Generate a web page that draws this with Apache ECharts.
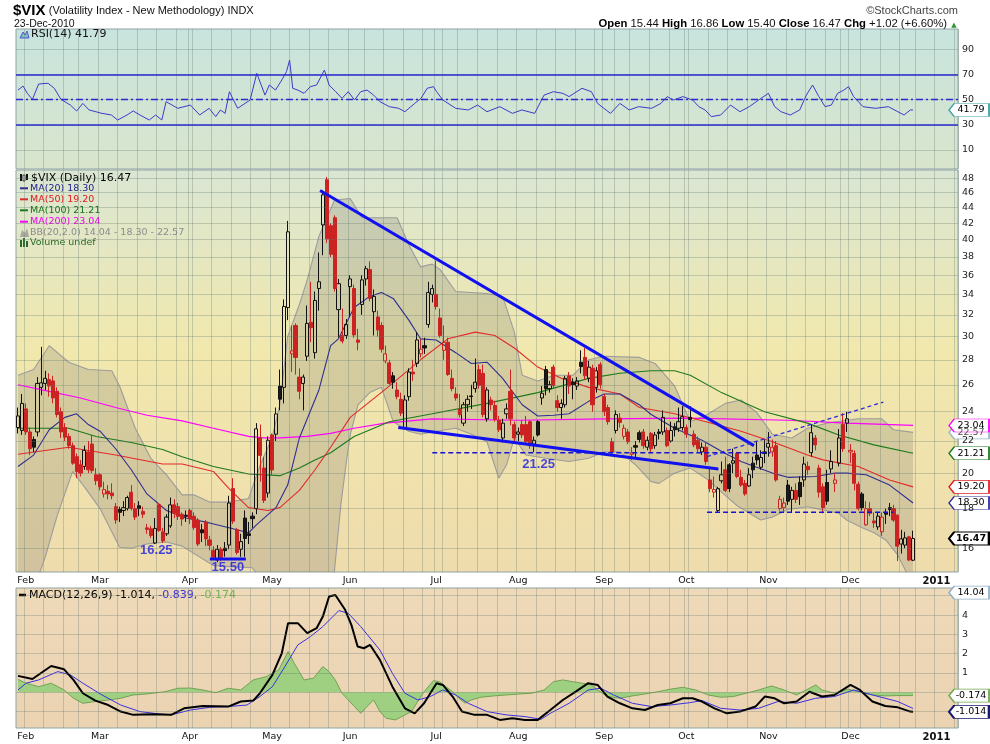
<!DOCTYPE html>
<html><head><meta charset="utf-8">
<script src="https://cdn.jsdelivr.net/npm/echarts@6/dist/echarts.min.js"></script>
<style>html,body{margin:0;padding:0;background:#fff}#c{width:990px;height:744px}</style>
</head><body><div id="c"></div>
<script>
// ---------------- DATA ----------------
const firstDay = '2010-01-28';
const holidays = ['2010-02-15','2010-04-02','2010-05-31','2010-07-05','2010-09-06','2010-11-25','2010-12-24','2011-01-17'];
const monthNames = ['Jan','Feb','Mar','Apr','May','Jun','Jul','Aug','Sep','Oct','Nov','Dec'];

// daily OHLC, 2010-01-28 .. 2010-12-23
const opens = [
 22.9,22.7,
 24.2,22.6,22.1,22.6,25.8,26.1,26.4,26.3,25.5,24.0,22.9,22.3,21.7,21.0,20.5,20.4,21.3,21.8,19.9,
 19.9,18.8,18.95,18.85,18.1,17.95,17.9,18.0,18.9,18.0,18.15,17.85,17.0,16.95,16.25,18.2,16.8,16.7,17.1,18.2,18.1,17.7,17.65,
 17.9,17.6,17.4,16.9,17.3,16.4,15.9,15.45,15.95,16.0,16.15,19.1,16.9,15.95,17.5,16.7,17.6,18.0,22.2,20.3,18.85,
 22.4,22.45,25.9,25.8,32.7,28.5,31.0,26.6,26.1,28.3,31.3,28.6,34.6,41.8,47.8,41.7,42.7,32.5,30.1,30.1,
 34.8,34.6,29.7,33.0,35.6,36.6,32.3,31.8,31.0,27.9,27.75,26.7,25.6,24.9,22.9,25.1,27.0,27.7,28.5,29.2,31.1,34.0,
 34.0,31.7,28.8,29.5,26.5,25.3,24.2,23.2,24.5,25.15,25.7,27.2,26.9,23.5,24.85,24.45,23.4,22.2,23.85,25.5,23.1,
 22.45,23.1,23.1,23.3,21.8,23.3,25.0,27.2,25.7,27.4,24.8,24.3,24.5,26.7,26.2,25.9,27.8,28.2,26.5,27.3,25.8,27.6,
 25.1,24.3,21.95,22.7,23.55,22.3,22.6,21.15,21.7,22.55,22.6,21.6,22.5,21.7,22.6,22.6,22.7,22.0,22.95,22.85,22.9,
 22.9,23.6,22.45,22.05,21.3,21.6,19.6,18.9,17.9,19.55,20.2,20.5,20.6,21.2,19.75,19.4,19.25,20.6,21.1,20.35,21.3,
 21.6,21.3,21.7,18.0,18.05,19.3,18.5,19.0,19.45,19.6,20.4,21.25,22.2,20.3,19.2,19.45,20.25,19.4,20.6,23.1,23.2,
 21.3,21.2,19.35,18.8,17.15,18.0,17.35,17.05,16.8,17.8,18.05,18.0,17.65,16.2,16.15,16.55,15.44
];
const highs = [
 24.3,25.3,
 24.6,22.9,22.3,26.6,29.1,27.1,26.9,26.7,25.8,24.3,23.2,22.5,21.9,21.2,20.8,21.7,22.0,22.4,20.3,
 20.0,19.5,19.3,19.4,18.3,18.1,18.4,18.7,19.3,18.3,18.4,18.1,17.2,17.1,17.5,18.3,17.0,17.7,18.6,18.5,18.3,17.8,17.9,
 18.0,17.8,17.5,17.2,17.4,16.6,16.1,16.15,16.05,16.3,18.7,19.7,17.0,16.7,17.9,17.3,17.8,23.2,23.1,21.0,22.3,
 22.5,24.3,27.2,33.5,42.3,31.0,31.2,27.3,26.8,32.9,35.3,34.3,38.5,46.3,48.2,42.0,43.0,35.6,32.6,31.6,
 36.0,35.0,30.7,36.0,37.0,37.5,34.5,32.4,31.3,29.2,28.0,27.0,26.2,25.4,25.2,27.3,28.0,30.4,29.8,29.9,35.3,35.0,
 37.6,32.6,31.0,29.9,27.2,25.8,25.3,24.7,25.2,26.0,28.1,27.6,27.6,25.8,25.1,24.8,23.7,23.5,24.6,27.2,23.3,
 22.9,23.4,23.7,23.4,22.3,23.4,25.9,27.5,26.3,27.6,25.2,24.9,26.7,27.0,26.5,26.6,28.8,29.0,27.9,27.6,27.4,27.8,
 25.3,24.5,22.2,24.1,23.9,23.1,22.8,21.6,22.0,22.7,22.8,22.3,22.6,22.6,22.8,24.1,22.9,23.3,23.2,24.3,24.4,
 23.1,24.4,22.7,22.3,21.9,21.9,20.3,19.8,19.2,20.7,21.0,20.6,21.5,21.3,20.2,19.6,20.3,21.0,22.0,21.4,22.1,
 22.6,22.1,22.0,18.7,18.6,19.6,19.2,19.4,19.8,21.0,20.7,23.1,22.4,20.5,19.4,20.2,21.4,20.0,22.8,23.9,24.0,
 21.8,21.4,19.5,18.9,18.4,18.35,17.8,17.8,17.8,18.0,18.3,18.2,17.7,16.9,16.8,16.6,16.86
];
const lows = [
 22.5,22.4,
 22.4,21.1,21.3,22.3,25.2,25.6,25.1,24.6,23.6,22.2,22.0,21.5,20.5,19.7,19.8,20.2,20.0,20.0,19.3,
 19.0,18.6,18.5,18.5,17.2,17.3,17.6,17.9,17.9,17.4,17.6,17.5,16.7,16.5,16.2,16.8,16.25,16.6,17.0,17.5,17.4,17.1,17.3,
 17.2,16.9,16.1,16.3,16.1,15.9,15.5,15.35,15.4,15.6,15.95,17.2,15.7,15.6,15.6,16.2,17.0,17.7,19.5,18.3,18.6,
 19.9,22.0,24.1,24.6,31.5,27.0,26.8,24.9,24.1,27.9,29.5,28.1,32.4,38.2,39.6,38.0,34.3,29.9,29.4,29.8,
 31.8,29.9,28.8,32.0,34.9,33.3,30.1,30.0,28.6,27.7,26.0,25.7,24.9,23.7,22.8,24.8,26.3,27.4,28.2,28.5,30.8,33.2,
 32.5,29.9,28.0,26.7,25.5,24.8,23.6,23.0,24.0,24.2,25.4,25.7,23.6,23.3,24.1,23.3,22.6,21.9,23.5,23.05,21.9,
 22.0,22.2,21.8,21.5,21.3,22.3,24.5,25.2,25.4,25.7,24.0,23.5,24.3,25.3,24.9,25.6,26.9,26.4,26.2,24.0,25.4,25.7,
 23.7,23.1,21.2,22.5,22.9,22.1,21.8,20.8,20.9,21.9,21.5,21.4,21.3,21.5,22.1,22.4,21.6,21.9,22.3,22.6,22.7,
 22.2,22.9,21.6,21.3,21.1,20.5,18.9,18.6,17.8,19.4,18.9,18.9,20.0,19.7,19.2,18.7,19.2,19.7,20.5,20.2,20.6,
 21.0,21.0,19.5,17.9,17.85,18.2,17.8,18.3,18.2,19.2,19.9,21.0,21.4,18.6,17.75,18.2,20.0,18.9,20.4,21.3,22.6,
 20.6,19.0,17.9,17.9,17.1,17.6,17.0,16.9,16.6,17.2,17.6,17.3,15.4,15.75,16.0,15.4,15.40
];
const closes = [
 23.7,24.6,
 22.6,21.5,21.6,26.1,26.15,26.5,25.9,25.0,23.8,22.6,22.25,21.7,20.6,20.1,20.0,21.4,20.2,20.15,19.55,
 19.2,19.05,18.8,18.7,17.4,17.8,18.05,18.6,18.0,17.55,18.0,17.7,16.92,16.62,16.97,16.87,16.35,17.55,18.2,17.77,17.59,17.45,17.59,
 17.47,17.02,16.2,16.75,16.45,16.14,15.58,15.95,15.55,15.89,18.3,17.34,15.8,16.32,16.47,16.62,17.47,22.81,21.08,18.44,22.05,
 20.19,23.84,24.91,32.8,40.95,28.75,28.2,25.5,26.6,31.2,30.8,33.4,35.3,45.7,40.1,38.3,34.6,35.1,29.6,31.1,
 35.6,30.15,29.5,35.5,36.7,33.6,33.8,30.6,28.9,28.5,26.1,26.2,25.1,23.9,24.85,27.0,26.85,29.7,28.9,29.0,34.2,34.6,
 32.8,30.1,29.5,26.8,25.7,25.0,23.8,24.5,24.9,25.1,26.2,25.95,23.8,25.6,24.5,23.45,22.75,23.2,24.2,23.5,22.2,
 22.6,22.4,21.95,21.7,22.05,22.4,25.35,25.7,26.0,25.95,24.3,24.6,26.5,25.9,26.0,26.3,27.45,26.7,27.4,24.5,27.1,26.0,
 24.0,23.3,21.3,23.8,23.25,22.85,21.95,21.25,21.6,22.1,21.7,22.05,21.5,22.4,22.5,23.6,21.7,22.7,22.75,23.3,23.65,
 22.45,23.45,21.75,21.5,21.6,20.7,19.1,19.05,19.1,19.9,19.0,19.1,20.75,19.8,19.3,18.8,19.9,20.2,20.8,20.95,21.2,
 21.85,21.6,19.6,18.5,18.3,18.4,19.0,18.5,18.65,20.55,20.2,22.55,21.75,18.9,18.05,18.4,20.7,19.6,22.2,21.5,23.5,
 21.4,19.4,18.0,18.05,18.0,17.75,17.25,17.6,17.55,17.7,17.95,17.4,16.1,16.45,16.5,15.45,16.47
];

// indicator readings: [trading-day index from Feb 1 (=0), value]
const ma20 = [[-2,20.4],[2,21.1],[6,22.75],[10,23.6],[13,23.85],[16,23.1],[19,22.65],[23,21.5],[27,20.2],[31,18.8],[36,17.9],[41,17.5],[47,17.25],[52,17.0],[57,16.75],[59,17.15],[64,18.05],[67,19.3],[70,22.2],[75,25.6],[78,29.2],[80,29.8],[84,32.7],[88,33.8],[91,34.2],[94,33.6],[98,31.5],[101,29.8],[105,29.7],[110,28.6],[114,27.7],[118,27.8],[122,26.5],[127,24.5],[131,23.7],[135,23.75],[139,23.85],[144,24.75],[148,25.3],[152,25.3],[157,24.5],[160,23.8],[166,22.85],[173,22.05],[179,21.2],[183,20.7],[191,20.0],[195,19.75],[202,19.8],[207,20.0],[210,20.0],[215,19.9],[221,19.3],[227,18.3]];
const ma50 = [[-2,21.15],[11,21.6],[23,21.1],[35,20.55],[40,20.55],[48,20.1],[52,19.1],[57,18.05],[62,17.9],[65,18.05],[70,19.0],[74,20.2],[78,21.6],[83,23.6],[93,25.9],[101,28.0],[108,29.8],[115,30.4],[120,30.1],[125,29.0],[131,27.4],[137,26.5],[144,25.8],[152,25.3],[157,24.3],[166,23.85],[174,23.3],[183,22.65],[191,21.95],[200,21.1],[204,20.8],[213,20.4],[221,19.6],[227,19.2]];
const ma100 = [[-2,22.85],[11,22.85],[18,22.3],[27,21.9],[35,21.45],[40,21.0],[48,20.4],[57,19.95],[65,19.85],[70,20.3],[74,20.8],[78,21.25],[84,22.3],[93,23.3],[104,23.85],[118,24.6],[131,25.4],[144,26.5],[152,26.9],[160,27.1],[166,27.1],[170,26.75],[178,25.4],[189,24.0],[200,23.2],[208,22.4],[217,21.75],[227,21.21]];
const ma200 = [[-2,26.0],[6,25.5],[14,25.0],[23,24.3],[31,23.75],[40,23.35],[48,22.85],[57,22.3],[61,22.2],[65,22.2],[72,22.3],[78,22.5],[84,22.85],[92,23.2],[104,23.5],[126,23.4],[148,23.5],[170,23.55],[195,23.4],[210,23.2],[227,23.04]];
const bbUpper = [[-2,26.75],[2,27.2],[6,29.2],[11,27.8],[16,27.2],[22,27.1],[24,25.9],[28,22.85],[32,20.9],[36,19.9],[40,18.75],[43,18.75],[47,18.35],[52,18.35],[57,18.55],[60,20.5],[63,22.2],[65,24.5],[67,30.0],[70,33.0],[72,35.5],[75,40.4],[79,45.0],[83,45.2],[86,42.7],[95,42.7],[98,39.4],[101,36.9],[104,37.2],[106,36.6],[110,34.3],[118,34.1],[122,33.8],[125,30.4],[127,26.75],[131,26.3],[135,26.75],[140,26.75],[144,28.0],[148,28.3],[157,28.2],[161,27.7],[166,25.9],[170,23.3],[174,23.75],[179,24.6],[183,24.85],[187,23.95],[191,22.45],[196,22.2],[200,22.85],[205,23.2],[213,23.5],[219,23.5],[222,22.75],[227,22.57]];
const bbLower = [[-2,12.5],[3,14.6],[5,15.6],[8,17.6],[12,20.1],[15,19.2],[19,18.0],[22,16.8],[24,16.05],[27,16.0],[31,16.2],[36,16.3],[40,16.1],[48,15.2],[52,15.15],[58,15.1],[60,14.6],[63,13.5],[66,12.0],[70,10.5],[74,11.0],[79,15.0],[80.6,18.2],[82.3,21.2],[83.1,22.5],[85,24.5],[88,25.4],[91,25.8],[94,23.3],[98,22.65],[101,22.45],[105,22.65],[110,22.85],[114,22.45],[118,21.95],[121,19.7],[123,20.5],[125,22.2],[128,21.1],[133,20.9],[139,20.7],[144,20.9],[148,21.3],[152,21.3],[156,20.5],[160,19.5],[162,19.4],[166,20.0],[170,20.3],[174,19.7],[177,19.1],[182,18.15],[188,17.4],[191,17.55],[195,17.95],[200,18.1],[208,17.75],[210,17.4],[214,17.0],[217,16.75],[220,16.4],[223,15.7],[225,15.0],[227,14.04]];

const rsi = [[-2,57.6],[-0.7,60.8],[0.4,55],[1.7,50.2],[3.3,62.4],[5.7,63],[7.3,59],[9,50.2],[11.4,45.7],[13,41],[14.6,47],[16.2,41.8],[19.5,39.1],[21.9,37.8],[23.5,33.8],[25.9,37.8],[27.5,41],[29.2,37.8],[31.6,33.8],[33.2,37.8],[34.8,33.8],[35.9,48.4],[38.9,43.1],[42.1,45.7],[44.5,37.8],[46.9,43.1],[48.6,36.5],[49.8,41.8],[51,39.1],[52.1,56.3],[54.2,43.1],[57.4,49.7],[59.1,70.9],[61.2,53.6],[62.3,61.6],[63.9,57.6],[65.5,65.6],[66.7,72.2],[67.5,81.4],[68.3,59],[69.6,57.6],[71.2,55],[72.8,60.3],[74.4,61.6],[76.4,73.5],[77.6,61.6],[79.3,56.3],[80.9,51],[82.5,56.3],[84.1,49.7],[85.7,56.3],[87.3,57.6],[89,53.6],[90.6,48.4],[93,44.4],[95.4,43.1],[97,40.4],[99.5,47],[101.1,51],[102.7,59],[104.3,60.3],[105.1,56.3],[106.7,49.7],[110,43.1],[113.2,41.8],[115.6,45.7],[118,40.4],[121.3,44.4],[124.5,39.1],[126.9,41.8],[130.2,39.1],[132.6,53.6],[135,56.3],[137.4,55],[139,52.4],[142.3,59],[144.7,56.3],[146.3,47],[147.9,43.1],[149.6,39.1],[152,47],[154.4,41.8],[156.8,44.4],[160.1,43.1],[162.5,47],[164.1,52.4],[165.7,49.7],[168.1,52.4],[170.6,49.7],[172.2,44.4],[173.8,41.8],[175.4,36.5],[177.8,37.8],[180.3,45.7],[182.7,40.4],[185.1,44.4],[187.5,49.7],[190,55],[191.6,44.4],[193.2,40.4],[195.6,37.8],[198,41.8],[199.7,53.6],[201.3,61.6],[202.9,52.4],[204.5,44.4],[206.1,45.7],[207.7,55],[209.3,57.6],[210.5,60.3],[211.8,52.4],[214.2,44.4],[217.4,43.1],[220.7,44.4],[223.1,40.4],[224.7,37.8],[226.3,41.8],[227,41.79]];

const macdLine = [[-2,0.85],[1.7,0.69],[6.5,1.36],[9.8,1.19],[12.2,0.64],[14.6,-0.05],[17.8,-0.43],[21.1,-0.66],[24.3,-1.0],[27.5,-1.17],[32.4,-1.14],[37.2,-1.17],[40.5,-0.83],[45.3,-0.71],[51.8,-0.74],[55,-0.48],[58.2,-0.43],[59.9,-0.05],[63.1,0.9],[65.5,2.02],[67.1,3.58],[69.6,3.58],[72,3.06],[74.4,3.32],[76,3.92],[77.6,4.96],[79.2,5.04],[81.7,4.27],[83.3,3.49],[84.9,2.37],[86.5,2.28],[88.1,2.45],[90.6,1.68],[93.8,0.29],[97,-0.83],[99.5,-1.09],[101.9,-0.57],[105.1,0.47],[106.7,0.38],[109.2,-0.22],[111.6,-1.0],[114.8,-1.17],[118,-1.17],[121.3,-1.43],[124.5,-1.35],[127.7,-1.43],[131,-1.43],[134.2,-0.92],[137.4,-0.4],[140.7,0.03],[143.9,0.47],[146.3,0.38],[148.8,-0.22],[152,-0.57],[155.2,-0.83],[158.4,-0.92],[161.7,-0.66],[164.9,-0.57],[168.1,-0.31],[170.6,-0.31],[173,-0.48],[176.2,-0.83],[179.4,-1.09],[182.7,-1.0],[186.7,-0.74],[189.1,-0.22],[191.6,-0.31],[194,-0.57],[197.2,-0.48],[200.5,0.03],[203.7,-0.22],[206.9,-0.14],[211,0.38],[213.4,0.12],[216.6,-0.48],[219.9,-0.71],[223.1,-0.78],[226.3,-1.0],[227,-1.014]];
const macdSignal = [[-2,0.12],[0.1,0.47],[3.3,0.64],[8.2,1.07],[11.4,0.9],[14.6,0.47],[19.5,-0.14],[24.3,-0.66],[29.2,-1.0],[34,-1.12],[37.2,-1.17],[42.1,-0.92],[47,-0.78],[51.8,-0.74],[56.6,-0.66],[59.9,-0.22],[63.1,0.29],[66.3,1.33],[69.6,2.45],[72.8,2.88],[76,3.4],[80.1,4.23],[82.5,4.09],[85.7,3.4],[90.6,2.19],[93.8,0.98],[97,-0.05],[100.3,-0.4],[103.5,-0.22],[106.7,0.12],[110,-0.14],[113.2,-0.57],[118,-1.0],[122.9,-1.17],[127.7,-1.26],[131.8,-1.4],[134.2,-1.09],[139,-0.57],[143.9,0.12],[147.1,0.21],[150.4,-0.14],[155.2,-0.57],[160.1,-0.74],[164.9,-0.66],[169.8,-0.54],[173,-0.43],[177.8,-0.83],[182.7,-0.92],[187.5,-0.83],[192.4,-0.48],[197.2,-0.57],[202.1,-0.31],[206.9,-0.22],[211.8,0.12],[216.6,-0.14],[223.1,-0.48],[227,-0.839]];
const macdHist = [[-2,0.67],[0.1,0.47],[3.3,0.29],[6.5,0.47],[9.8,0.12],[12.2,-0.31],[14.6,-0.57],[17.8,-0.48],[21.1,-0.4],[24.3,-0.31],[27.5,-0.14],[30.8,-0.09],[35.6,0.03],[38.9,0.21],[42.1,0.22],[45.3,0.12],[48.6,-0.02],[51.8,0.21],[55,0.12],[58.2,0.64],[61.5,0.81],[64.7,1.16],[67.1,2.11],[68.7,1.5],[71.2,0.64],[73.6,0.73],[76,1.33],[77.6,1.07],[79.2,0.64],[80.9,-0.05],[82.5,-0.4],[84.1,-0.74],[85.7,-1.09],[87.3,-0.74],[89,-0.4],[90.6,-1.0],[92.2,-1.35],[94.6,-1.43],[97,-1.17],[98.7,-1.0],[100.3,-0.48],[101.9,0.03],[104.3,0.6],[105.9,0.55],[107.5,0.29],[109.2,0.03],[110.8,-0.31],[112.4,-0.57],[114,-0.4],[116.4,-0.26],[119.7,-0.19],[122.9,-0.14],[126.1,-0.09],[129.4,-0.05],[132.6,0.12],[135,0.55],[137.4,0.64],[139.9,0.55],[142.3,0.47],[144.7,0.38],[146.3,0.12],[148.8,-0.22],[152,-0.31],[155.2,-0.19],[158.4,-0.09],[161.7,0.03],[164.9,0.16],[168.1,0.26],[171.4,0.12],[174.6,-0.14],[177.8,-0.26],[181.1,-0.22],[184.3,-0.05],[187.5,0.12],[190.8,0.33],[194,0.12],[197.2,-0.14],[200.5,0.21],[202.1,0.38],[203.7,0.12],[206.9,-0.05],[210.2,0.16],[213.4,0.03],[216.6,-0.14],[219.9,-0.19],[223.1,-0.17],[227,-0.174]];

// tick labels (hiddenTicks: labels covered by value tags in the original)
const priceTicks = [16,18,20,22,24,26,28,30,32,34,36,38,40,42,44,46,48];
const rsiTicks = [10,30,50,70,90];
const macdTicks = [-1,0,1,2,3,4,5];
const macdHiddenTicks = [-1,0,5];

// chart annotations (drawn lines and labels), in [day index, value]
const trendDown = [[75.3,46.3],[186.3,21.7]];
const trendLow = [[95.3,22.9],[177.2,20.25]];
const support1550 = [[47.1,15.5],[56.3,15.5]];
const dash2125 = [[104,21.25],[190.5,21.25]];
const dash178 = [[174.3,17.8],[222,17.8]];
const dashUp = [[174.3,21.0],[219.4,24.7]];
const noteLabels = [{name:'16.25', value:[33.4,15.89]},{name:'15.50', value:[51.7,15.1]},{name:'21.25', value:[131.2,20.55]}];

// ---------------- BUILD ----------------
function buildDays(n){
  const out=[]; const d=new Date(firstDay+'T00:00:00Z');
  while(out.length<n){
    const dow=d.getUTCDay(); const s=d.toISOString().slice(0,10);
    if(dow!==0&&dow!==6&&holidays.indexOf(s)<0) out.push(s);
    d.setUTCDate(d.getUTCDate()+1);
  }
  return out;
}
const days = buildDays(241);
const N = days.length;
const OFF = 2; // index of Feb 1
const xMin = -OFF-0.5, xMax = N-OFF-0.5;
const dow = s => new Date(s+'T00:00:00Z').getUTCDay();
const isMonthStart = j => j>0 && days[j].slice(0,7)!==days[j-1].slice(0,7);
const isWeekStart = j => j>0 && dow(days[j]) <= dow(days[j-1]);

const redC=[], blackC=[];
for(let j=0;j<N;j++){
  if(j<closes.length){
    const it=[opens[j],closes[j],lows[j],highs[j]];
    const prev=j>0?closes[j-1]:closes[j];
    if(closes[j]<prev){redC.push(it);blackC.push('-');} else {blackC.push(it);redC.push('-');}
  } else {redC.push('-');blackC.push('-');}
}

const GRIDC='rgba(95,120,110,0.30)';
const AXF='DejaVu Sans';
const NARROW="'Liberation Sans Narrow','Liberation Sans',Arial,sans-serif";

function catAxis(g, labels){
  return {type:'category', gridIndex:g, data:days, boundaryGap:true,
    axisLine:{show:false}, axisTick:{show:false},
    axisLabel:{show:labels, interval:(i)=>isMonthStart(i), margin:4,
      formatter:(v)=>{const m=+v.slice(5,7); return m===1?'{y|'+v.slice(0,4)+'}':monthNames[m-1];},
      fontFamily:AXF, fontSize:9.5, color:'#111', rich:{y:{fontFamily:AXF,fontSize:10,fontWeight:'bold',color:'#111'}}},
    splitLine:{show:true, interval:(i)=>isWeekStart(i)||isMonthStart(i), lineStyle:{color:GRIDC,width:1}}};
}
function valX(g){return {type:'value', gridIndex:g, min:xMin, max:xMax, show:false};}

const TAG='path://M0,6L6,0L46,0L46,12L6,12Z';
function tag(v,text,border,o){o=o||{};
  return {coord:[xMax,v], value:v, symbol:TAG, symbolSize:[40,13], symbolOffset:[11,0], symbolKeepAspect:false,
    itemStyle:{color:'#ffffff', borderColor:border, borderWidth:o.bw||1},
    label:{show:true, position:'inside', formatter:text, color:o.color||'#000', fontFamily:AXF, fontSize:9.5, fontWeight:o.bold?'bold':'normal', offset:[2,0]}};
}
function tickSeries(xi,yi,ticks,y0,hidden){
  hidden=hidden||[];
  return {type:'line', xAxisIndex:xi, yAxisIndex:yi, data:[[xMin-50,y0]], showSymbol:false, silent:true, z:1, lineStyle:{opacity:0},
    markLine:{symbol:['none','none'], silent:true, animation:false, lineStyle:{color:GRIDC,width:1,type:'solid'},
      label:{show:true, position:'end', distance:4, color:'#1a1a1a', fontFamily:AXF, fontSize:9.5, formatter:(p)=>String(p.value)},
      data:ticks.map(v=>hidden.indexOf(v)>=0?{yAxis:v,label:{show:false}}:{yAxis:v})}};
}
function tagSeries(xi,yi,y0,tags){
  return {type:'line', xAxisIndex:xi, yAxisIndex:yi, data:[[xMin-50,y0]], showSymbol:false, silent:true, z:20, zlevel:1, lineStyle:{opacity:0},
    markPoint:{silent:true, animation:false, data:tags}};
}
function ln(xi,yi,data,color,w,z,extra){return Object.assign({type:'line',xAxisIndex:xi,yAxisIndex:yi,data,showSymbol:false,silent:true,z:z||3,
  lineStyle:{color,width:w}},extra||{});}

const chart = echarts.init(document.getElementById('c'),null,{renderer:'canvas'});
const option = {
  animation:false, backgroundColor:'#ffffff',
  grid:[
    {left:16,right:32,top:29,height:140,show:true,borderColor:'#8fa3a3',borderWidth:1,
      backgroundColor:{type:'linear',x:0,y:0,x2:0,y2:1,colorStops:[{offset:0,color:'#c8e4de'},{offset:1,color:'#d9e5cc'}]}},
    {left:16,right:32,top:170,height:402,show:true,borderColor:'#8fa3a3',borderWidth:1,
      backgroundColor:{type:'linear',x:0,y:0,x2:0,y2:1,colorStops:[{offset:0,color:'#dae6d3'},{offset:0.45,color:'#f1e8ad'},{offset:1,color:'#efdcad'}]}},
    {left:16,right:32,top:588,height:140,show:true,borderColor:'#8fa3a3',borderWidth:1,
      backgroundColor:{type:'linear',x:0,y:0,x2:0,y2:1,colorStops:[{offset:0,color:'#eed9b9'},{offset:1,color:'#ebd3b2'}]}}
  ],
  xAxis:[catAxis(0,false),valX(0),catAxis(1,true),valX(1),catAxis(2,true),valX(2)],
  yAxis:[
    {type:'value',gridIndex:0,min:-5.1,max:106.1,show:false},
    {type:'log',gridIndex:1,logBase:10,min:14.91,max:49.2,show:false},
    {type:'value',gridIndex:2,min:-1.85,max:5.4,show:false}
  ],
  series:[
    // RSI panel
    tickSeries(1,0,rsiTicks,50),
    ln(1,0,rsi,'#3b3bc9',1,3,{markLine:{symbol:['none','none'],silent:true,animation:false,label:{show:false},
      data:[{yAxis:70,lineStyle:{color:'#2a2ad0',width:1.5,type:'solid'}},{yAxis:30,lineStyle:{color:'#2a2ad0',width:1.5,type:'solid'}},
            {yAxis:50,lineStyle:{color:'#2a2ad0',width:1.3,type:[7,3,2,3]}}]}}),
    tagSeries(1,0,50,[tag(41.79,'41.79','#3aa0a0')]),
    // price panel
    tickSeries(3,1,priceTicks,20),
    {type:'custom', xAxisIndex:3, yAxisIndex:1, data:[[0,20]], silent:true, z:2, clip:true,
      renderItem:(params,api)=>{
        const pts=bbUpper.map(p=>api.coord(p)).concat(bbLower.slice().reverse().map(p=>api.coord(p)));
        const cs=params.coordSys;
        return {type:'polygon', shape:{points:pts}, style:{fill:'rgba(110,110,105,0.22)'},
          clipPath:{type:'rect', shape:{x:cs.x,y:cs.y,width:cs.width,height:cs.height}}};
      }},
    ln(3,1,bbUpper,'#9c9c9c',1.1,2),
    ln(3,1,bbLower,'#9c9c9c',1.1,2),
    ln(3,1,ma200,'#ff00ff',1.2,3),
    ln(3,1,ma100,'#1c7a1c',1.1,3),
    ln(3,1,ma50,'#e22a2a',1.1,3),
    ln(3,1,ma20,'#2e2e90',1.1,3),
    {type:'candlestick', xAxisIndex:2, yAxisIndex:1, data:blackC, barWidth:3.6, z:4, silent:true,
      itemStyle:{color:'rgba(0,0,0,0)', color0:'#1a1a1a', borderColor:'#111', borderColor0:'#111', borderWidth:1}},
    {type:'candlestick', xAxisIndex:2, yAxisIndex:1, data:redC, barWidth:3.6, z:4, silent:true,
      itemStyle:{color:'rgba(0,0,0,0)', color0:'#cc2222', borderColor:'#cc2222', borderColor0:'#cc2222', borderWidth:1}},
    ln(3,1,trendDown,'#1010f0',3,5),
    ln(3,1,trendLow,'#1010f0',3,5),
    ln(3,1,support1550,'#1010f0',3,5),
    ln(3,1,dash2125,'#1414d4',1.5,5,{lineStyle:{color:'#1414d4',width:1.5,type:[5,3]}}),
    ln(3,1,dash178,'#1414d4',1.5,5,{lineStyle:{color:'#1414d4',width:1.5,type:[5,3]}}),
    ln(3,1,dashUp,'#1414d4',1.3,5,{lineStyle:{color:'#2a2ae0',width:1.3,type:[4,3]}}),
    {type:'scatter', xAxisIndex:3, yAxisIndex:1, data:noteLabels, symbolSize:0, silent:true, z:6,
      label:{show:true, position:'inside', formatter:'{b}', color:'#1a1ae6', fontFamily:NARROW, fontWeight:'bold', fontSize:13}},
    tagSeries(3,1,20,[
      tag(22.57,'22.57','#9db8c8',{color:'#555'}), tag(23.04,'23.04','#ff00ff'), tag(21.21,'21.21','#1a7a1a'),
      tag(19.20,'19.20','#e02020'), tag(18.30,'18.30','#2a2aa0'), tag(16.47,'16.47','#000',{bold:true,bw:1.5})]),
    // MACD panel
    tickSeries(5,2,macdTicks,0,macdHiddenTicks),
    ln(5,2,macdHist,'#5d9642',0.8,2,{areaStyle:{color:'#9fcf80',opacity:1}}),
    ln(5,2,macdSignal,'#3a30e0',1,3),
    ln(5,2,macdLine,'#000000',2,4),
    tagSeries(5,2,0,[tag(5.16,'14.04','#8fb0c4'), tag(-0.174,'-0.174','#6aaa4a'), tag(-1.014,'-1.014','#1a1a70',{bw:1.5})])
  ],
  graphic:[
    {type:'text', x:13, y:11, silent:true, style:{text:'{a|$VIX} {b|(Volatility Index - New Methodology) INDX}', verticalAlign:'middle', align:'left',
      rich:{a:{font:"bold 15px "+NARROW, fill:'#000'}, b:{font:"11px "+NARROW, fill:'#111'}}}},
    {type:'text', x:14, y:24, silent:true, style:{text:'23-Dec-2010', font:"10.5px "+NARROW, fill:'#111', verticalAlign:'middle', align:'left'}},
    {type:'text', x:958, y:11, silent:true, style:{text:'©StockCharts.com', font:"11px "+NARROW, fill:'#444', verticalAlign:'middle', align:'right'}},
    {type:'text', x:947, y:24, silent:true, style:{text:'{b|Open} 15.44 {b|High} 16.86 {b|Low} 15.40 {b|Close} 16.47 {b|Chg} +1.02 (+6.60%)', verticalAlign:'middle', align:'right',
      font:"11.3px "+NARROW, fill:'#111', rich:{b:{font:"bold 11.3px "+NARROW, fill:'#000'}}}},
    {type:'text', x:954, y:25, silent:true, style:{text:'▲', font:"7px "+AXF, fill:'#2a9a2a', verticalAlign:'middle', align:'center'}},
    // RSI legend
    {type:'polygon', silent:true, shape:{points:[[20,38],[23,32],[25,35],[27,31],[29,38]]}, style:{fill:'#7fc0c8', stroke:'#3b3bc9', lineWidth:0.8}},
    {type:'text', x:31, y:34.5, silent:true, style:{text:'RSI(14) 41.79', font:"11px "+AXF, fill:'#111', verticalAlign:'middle', align:'left'}},
    // price legend
    {type:'rect', silent:true, shape:{x:20,y:174,width:2,height:7}, style:{fill:'#111'}},
    {type:'rect', silent:true, shape:{x:23,y:175,width:2,height:6}, style:{fill:'#fff',stroke:'#111',lineWidth:0.8}},
    {type:'rect', silent:true, shape:{x:26,y:174,width:2,height:6}, style:{fill:'#111'}},
    {type:'text', x:31, y:177.7, silent:true, style:{text:'$VIX (Daily) 16.47', font:"11px "+AXF, fill:'#000', verticalAlign:'middle', align:'left'}},
    {type:'line', silent:true, shape:{x1:20,y1:188.3,x2:28,y2:188.3}, style:{stroke:'#2e2e90',lineWidth:2}},
    {type:'text', x:30, y:188.3, silent:true, style:{text:'MA(20) 18.30', font:"9.5px "+AXF, fill:'#1c1c8a', verticalAlign:'middle', align:'left'}},
    {type:'line', silent:true, shape:{x1:20,y1:199.3,x2:28,y2:199.3}, style:{stroke:'#e22a2a',lineWidth:2}},
    {type:'text', x:30, y:199.3, silent:true, style:{text:'MA(50) 19.20', font:"9.5px "+AXF, fill:'#e01a1a', verticalAlign:'middle', align:'left'}},
    {type:'line', silent:true, shape:{x1:20,y1:210.3,x2:28,y2:210.3}, style:{stroke:'#1c7a1c',lineWidth:2}},
    {type:'text', x:30, y:210.3, silent:true, style:{text:'MA(100) 21.21', font:"9.5px "+AXF, fill:'#137313', verticalAlign:'middle', align:'left'}},
    {type:'line', silent:true, shape:{x1:20,y1:221.7,x2:28,y2:221.7}, style:{stroke:'#ff00ff',lineWidth:2}},
    {type:'text', x:30, y:221.7, silent:true, style:{text:'MA(200) 23.04', font:"9.5px "+AXF, fill:'#ee00ee', verticalAlign:'middle', align:'left'}},
    {type:'polygon', silent:true, shape:{points:[[20,237],[22,230],[25,233],[27,228],[29,237]]}, style:{fill:'#a8a8a0'}},
    {type:'text', x:30, y:232.7, silent:true, style:{text:'BB(20,2.0) 14.04 - 18.30 - 22.57', font:"9.5px "+AXF, fill:'#8c8c8c', verticalAlign:'middle', align:'left'}},
    {type:'rect', silent:true, shape:{x:20,y:240,width:2,height:7}, style:{fill:'#2a6a2a'}},
    {type:'rect', silent:true, shape:{x:23,y:238,width:2,height:9}, style:{fill:'#2a6a2a'}},
    {type:'rect', silent:true, shape:{x:26,y:241,width:2,height:6}, style:{fill:'#2a6a2a'}},
    {type:'text', x:30, y:242.7, silent:true, style:{text:'Volume undef', font:"9.5px "+AXF, fill:'#2a6a2a', verticalAlign:'middle', align:'left'}},
    // MACD legend
    {type:'line', silent:true, shape:{x1:19,y1:595,x2:26,y2:595}, style:{stroke:'#000',lineWidth:2.5}},
    {type:'text', x:29, y:595, silent:true, style:{text:'{a|MACD(12,26,9) -1.014,} {b|-0.839,} {c|-0.174}', verticalAlign:'middle', align:'left',
      rich:{a:{font:"11px "+AXF, fill:'#000'}, b:{font:"11px "+AXF, fill:'#3a30e0'}, c:{font:"11px "+AXF, fill:'#72b552'}}}}
  ]
};
chart.setOption(option);
</script>
</body></html>
